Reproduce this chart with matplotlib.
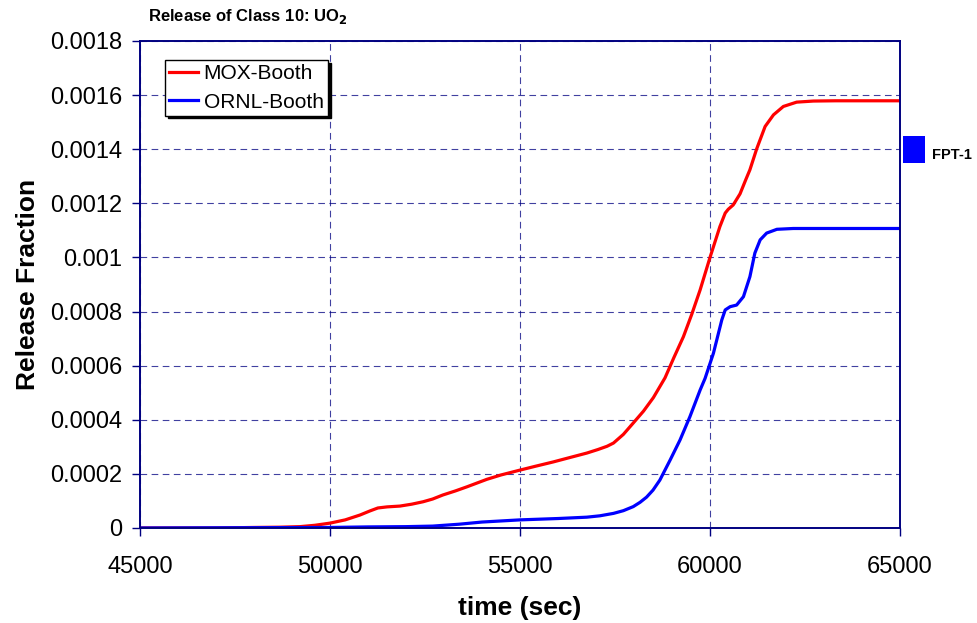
import matplotlib
matplotlib.use("Agg")
import matplotlib.pyplot as plt
from matplotlib.patches import Rectangle

plt.rcParams["font.family"] = ["Liberation Sans", "DejaVu Sans"]

# values
mox_t = [45000, 47000, 48000, 48700, 49210, 49600, 50000, 50400, 50790, 51050, 51260, 51500,
         51840, 52150, 52450, 52700, 52970, 53300, 53600, 54130, 54500, 55000, 55400, 55870,
         56300, 56760, 57050, 57290, 57460, 57720, 57980, 58250, 58510, 58816, 59050, 59300,
         59520, 59740, 60000, 60260, 60400, 60480, 60610, 60790, 60940, 61050, 61230, 61450,
         61670, 61930, 62280, 62720, 63300, 65000]
mox_f = [0.0, 0.0, 0.000002, 0.000003, 0.000005, 0.00001, 0.000018, 0.00003, 0.000048, 0.000063,
         0.000074, 0.000078, 0.000081, 0.000088, 0.000097, 0.000107, 0.000122, 0.000137,
         0.000152, 0.00018, 0.000196, 0.000214, 0.000228, 0.000244, 0.00026, 0.000277, 0.00029,
         0.000302, 0.000314, 0.000346, 0.000388, 0.000432, 0.000482, 0.000555, 0.00063, 0.000707,
         0.00079, 0.00088, 0.001, 0.001114, 0.001164, 0.001178, 0.001194, 0.001235, 0.001287,
         0.001324, 0.001402, 0.001484, 0.001527, 0.001558, 0.001574, 0.001578, 0.001579,
         0.001579]

ornl_t = [45000, 50000, 51000, 52000, 52700, 53400, 54000, 55000, 56000, 56760, 57100, 57460,
          57720, 57980, 58160, 58330, 58500, 58680, 58950, 59210, 59470, 59740, 59870, 60090,
          60310, 60400, 60530, 60700, 60880, 61050, 61180, 61320, 61490, 61760, 62190, 65000]
ornl_f = [0.0, 0.000002, 0.000004, 0.000005, 0.000007, 0.000014, 0.000022, 0.00003, 0.000035,
          0.00004, 0.000045, 0.000054, 0.000064, 0.000079, 0.000095, 0.000114, 0.00014, 0.000177,
          0.000251, 0.000325, 0.000411, 0.00051, 0.000553, 0.000646, 0.000769, 0.000806,
          0.000818, 0.000824, 0.000855, 0.000929, 0.001016, 0.001065, 0.00109, 0.001104,
          0.001107, 0.001107]

fpt1_range = (0.00135, 0.00145)

y_ticks = [0, 0.0002, 0.0004, 0.0006, 0.0008, 0.001, 0.0012, 0.0014, 0.0016, 0.0018]
y_labels = ["0", "0.0002", "0.0004", "0.0006", "0.0008", "0.001", "0.0012", "0.0014",
            "0.0016", "0.0018"]
x_ticks = [45000, 50000, 55000, 60000, 65000]

NAVY = "#000080"

fig = plt.figure(figsize=(9.77, 6.23), dpi=100)
ax = fig.add_axes([0.1433, 0.1525, 0.9212 - 0.1433, 0.9342 - 0.1525])

ax.plot(mox_t, mox_f, color="#ff0000", lw=2.3, label="MOX-Booth", solid_joinstyle="round")
ax.plot(ornl_t, ornl_f, color="#0000ff", lw=2.3, label="ORNL-Booth", solid_joinstyle="round")

# FPT-1 measured band, outside the plot on the right
ax.add_patch(Rectangle((65080, fpt1_range[0]), 580, fpt1_range[1] - fpt1_range[0],
                       facecolor="#0000ff", edgecolor="none", clip_on=False))
ax.text(65850, (fpt1_range[0] + fpt1_range[1]) / 2 - 0.00002, "FPT-1", fontsize=10.5,
        fontweight="bold", va="center", ha="left")

ax.set_xlim(45000, 65000)
ax.set_ylim(0, 0.0018)
ax.set_xticks(x_ticks)
ax.set_xticklabels([str(v) for v in x_ticks])
ax.set_yticks(y_ticks)
ax.set_yticklabels(y_labels)
ax.tick_params(labelsize=17, direction="out", length=5.5, color=NAVY, width=1)
ax.tick_params(axis="x", pad=14.5)
ax.tick_params(axis="y", pad=7.5)
ax.grid(True, color=NAVY, ls=(0, (6, 4)), lw=0.8, alpha=0.75)
for s in ax.spines.values():
    s.set_color(NAVY)
    s.set_linewidth(1.4)

ax.set_xlabel("time (sec)", fontsize=19, fontweight="bold")
ax.set_ylabel("Release Fraction", fontsize=19, fontweight="bold")
ax.xaxis.set_label_coords(0.5, -0.140)
ax.yaxis.set_label_coords(-0.131, 0.5)

fig.text(148 / 977, 1 - 16 / 623, r"Release of Class 10: UO$_\mathbf{2}$", fontsize=12,
         fontweight="bold", va="center", ha="left")

leg = ax.legend(loc="upper left", bbox_to_anchor=(0.033, 0.961), fontsize=15, frameon=True,
                fancybox=False, shadow={"color": "black", "alpha": 1.0}, borderpad=0.2,
                borderaxespad=0, handlelength=1.4, handletextpad=0.25, labelspacing=0.45)
leg.get_frame().set_edgecolor("black")
leg.get_frame().set_linewidth(1.0)

fig.savefig("out.png", dpi=100)
